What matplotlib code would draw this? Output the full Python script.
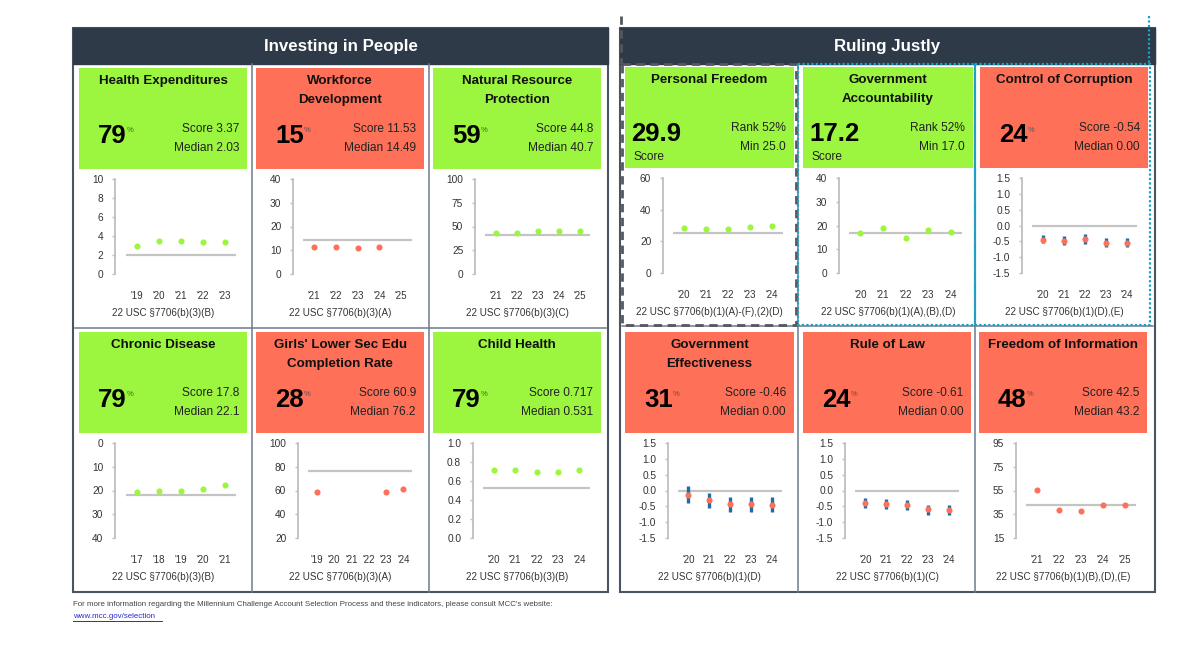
import matplotlib
matplotlib.use("Agg")
import matplotlib.pyplot as plt
from matplotlib.patches import Rectangle

plt.rcParams['font.family'] = ['Liberation Sans', 'DejaVu Sans']

nan = float('nan')
GREEN = "#9CF53E"
RED = "#FF7058"

# data, one entry per panel
titles = ["Health Expenditures", "Workforce\nDevelopment", "Natural Resource\nProtection",
          "Chronic Disease", "Girls' Lower Sec Edu\nCompletion Rate", "Child Health",
          "Personal Freedom", "Government\nAccountability", "Control of Corruption",
          "Government\nEffectiveness", "Rule of Law", "Freedom of Information"]
big_numbers = ["79", "15", "59", "79", "28", "79", "29.9", "17.2", "24", "31", "24", "48"]
score_labels = ["Score 3.37", "Score 11.53", "Score 44.8", "Score 17.8", "Score 60.9", "Score 0.717",
                "Rank 52%", "Rank 52%", "Score -0.54", "Score -0.46", "Score -0.61", "Score 42.5"]
median_labels = ["Median 2.03", "Median 14.49", "Median 40.7", "Median 22.1", "Median 76.2", "Median 0.531",
                 "Min 25.0", "Min 17.0", "Median 0.00", "Median 0.00", "Median 0.00", "Median 43.2"]
passed = [True, False, True, True, False, True, True, True, False, False, False, False]
statutes = ["22 USC §7706(b)(3)(B)", "22 USC §7706(b)(3)(A)", "22 USC §7706(b)(3)(C)",
            "22 USC §7706(b)(3)(B)", "22 USC §7706(b)(3)(A)", "22 USC §7706(b)(3)(B)",
            "22 USC §7706(b)(1)(A)-(F),(2)(D)", "22 USC §7706(b)(1)(A),(B),(D)", "22 USC §7706(b)(1)(D),(E)",
            "22 USC §7706(b)(1)(D)", "22 USC §7706(b)(1)(C)", "22 USC §7706(b)(1)(B),(D),(E)"]
years = [["'19", "'20", "'21", "'22", "'23"],
         ["'21", "'22", "'23", "'24", "'25"],
         ["'21", "'22", "'23", "'24", "'25"],
         ["'17", "'18", "'19", "'20", "'21"],
         ["'19", "'20", "'21", "'22", "'23", "'24"],
         ["'20", "'21", "'22", "'23", "'24"],
         ["'20", "'21", "'22", "'23", "'24"],
         ["'20", "'21", "'22", "'23", "'24"],
         ["'20", "'21", "'22", "'23", "'24"],
         ["'20", "'21", "'22", "'23", "'24"],
         ["'20", "'21", "'22", "'23", "'24"],
         ["'21", "'22", "'23", "'24", "'25"]]
values = [[2.9, 3.5, 3.5, 3.4, 3.37],
          [11.3, 11.3, 10.9, 11.53, nan],
          [43.5, 43.5, 45, 45.5, 44.8],
          [20.5, 20.2, 20, 19.5, 17.8],
          [58.5, nan, nan, nan, 59, 60.9],
          [0.72, 0.72, 0.70, 0.70, 0.717],
          [28.2, 27.5, 28, 29.3, 29.9],
          [16.7, 18.8, 14.7, 18, 17.2],
          [-0.45, -0.48, -0.42, -0.54, -0.54],
          [-0.14, -0.29, -0.43, -0.44, -0.46],
          [-0.38, -0.42, -0.45, -0.59, -0.61],
          [55.5, 39, 37.5, 42.5, 42.5]]
medians = [2.03, 14.49, 40.7, 22.1, 76.2, 0.531, 25.0, 17.0, 0.0, 0.0, 0.0, 43.2]
y_ticks = [[0, 2, 4, 6, 8, 10],
           [0, 10, 20, 30, 40],
           [0, 25, 50, 75, 100],
           [0, 10, 20, 30, 40],
           [20, 40, 60, 80, 100],
           [0.0, 0.2, 0.4, 0.6, 0.8, 1.0],
           [0, 20, 40, 60],
           [0, 10, 20, 30, 40],
           [-1.5, -1.0, -0.5, 0.0, 0.5, 1.0, 1.5],
           [-1.5, -1.0, -0.5, 0.0, 0.5, 1.0, 1.5],
           [-1.5, -1.0, -0.5, 0.0, 0.5, 1.0, 1.5],
           [15, 35, 55, 75, 95]]
y_labels = [["0", "2", "4", "6", "8", "10"],
            ["0", "10", "20", "30", "40"],
            ["0", "25", "50", "75", "100"],
            ["0", "10", "20", "30", "40"],
            ["20", "40", "60", "80", "100"],
            ["0.0", "0.2", "0.4", "0.6", "0.8", "1.0"],
            ["0", "20", "40", "60"],
            ["0", "10", "20", "30", "40"],
            ["-1.5", "-1.0", "-0.5", "0.0", "0.5", "1.0", "1.5"],
            ["-1.5", "-1.0", "-0.5", "0.0", "0.5", "1.0", "1.5"],
            ["-1.5", "-1.0", "-0.5", "0.0", "0.5", "1.0", "1.5"],
            ["15", "35", "55", "75", "95"]]
err_low = {8: [-0.55, -0.63, -0.57, -0.68, -0.68],
           9: [-0.39, -0.55, -0.67, -0.67, -0.67],
           10: [-0.55, -0.58, -0.62, -0.77, -0.77]}
err_high = {8: [-0.30, -0.33, -0.28, -0.38, -0.38],
            9: [0.14, -0.07, -0.20, -0.20, -0.20],
            10: [-0.23, -0.26, -0.30, -0.45, -0.45]}

# layout in pixels: colored box (x0, x1), then plot (left, right, spine x)
boxes = [(79, 247), (256, 424), (433, 601), (79, 247), (256, 424), (433, 601),
         (625, 794), (803, 973), (980, 1148), (625, 794), (803, 971), (979, 1147)]
plots = [(126, 236, 115), (303, 412, 293), (485, 590, 475),
         (126, 236, 115), (308, 412, 298), (483, 590, 473),
         (673, 783, 663), (849, 962, 839), (1032, 1137, 1022),
         (678, 782, 668), (855, 959, 845), (1026, 1136, 1016)]
row_tops = [68, 68, 68, 332, 332, 332, 67, 67, 67, 332, 332, 332]
axis_tops = [179, 179, 179, 443, 443, 443, 178, 178, 178, 443, 443, 443]

fig = plt.figure(figsize=(12, 6.48), dpi=100)
bg = fig.add_axes([0, 0, 1, 1])
bg.set_xlim(0, 1200)
bg.set_ylim(648, 0)
bg.axis("off")

# block frames and headers
frame = "#6C7A8E"
for x0, x1, name in [(73, 608, "Investing in People"), (620, 1155, "Ruling Justly")]:
    bg.add_patch(Rectangle((x0, 28), x1 - x0, 564, fc="white", ec="#4A5563", lw=1.5))
    bg.add_patch(Rectangle((x0, 28), x1 - x0, 36, fc="#2E3A48", ec="#2E3A48", lw=1))
    bg.text((x0 + x1) / 2, 46, name, color="white", fontsize=12.2, fontweight="bold",
            ha="center", va="center")
for x in [252, 429, 798, 975]:
    bg.plot([x, x], [64, 592], color=frame, lw=1.1)
bg.plot([75, 606], [328, 328], color=frame, lw=1.1)
bg.plot([622, 1153], [326, 326], color=frame, lw=1.1)

for i in range(12):
    x0, x1 = boxes[i]
    top = row_tops[i]
    mid = (x0 + x1) / 2
    color = GREEN if passed[i] else RED
    bg.add_patch(Rectangle((x0, top), x1 - x0, 101, fc=color, ec="none"))

    # title, one or two lines
    for j, line in enumerate(titles[i].split("\n")):
        bg.text(mid, top + 13 + j * 19, line, fontsize=9.6, fontweight="bold", color="#111111",
                ha="center", va="center")

    # big number
    if "." in big_numbers[i]:
        bg.text(x0 + 6, top + 67, big_numbers[i], fontsize=18.5, fontweight="bold", color="black",
                ha="left", va="center")
        bg.text(x0 + 24, top + 90, "Score", fontsize=8.6, color="#222222", ha="center", va="center")
    else:
        bg.text(x0 + 19, top + 68, big_numbers[i], fontsize=18.5, fontweight="bold", color="black",
                ha="left", va="center")
        bg.text(x0 + 48, top + 63, "%", fontsize=5.5, color="#555555", ha="left", va="center")

    bg.text(x1 - 8, top + 61, score_labels[i], fontsize=8.6, color="#222222", ha="right", va="center")
    bg.text(x1 - 8, top + 80, median_labels[i], fontsize=8.6, color="#222222", ha="right", va="center")
    bg.text(mid, top + 245, statutes[i], fontsize=7.1, color="#333333", ha="center", va="center")

    # the small chart
    left, right, spine_x = plots[i]
    ax_top = axis_tops[i]
    ax = fig.add_axes([left / 1200, 1 - (ax_top + 95) / 648, (right - left) / 1200, 95 / 648])
    ax.patch.set_alpha(0)
    n = len(years[i])
    xs = list(range(n))
    ax.plot([-0.5, n - 0.5], [medians[i], medians[i]], color="#C4C4C4", lw=1.6, zorder=1)
    if i in err_low:
        ax.vlines(xs, err_low[i], err_high[i], color="#1F6DA6", lw=2.4, zorder=2)
    ax.plot(xs, values[i], "o", color=color, ms=4.4, mew=0, zorder=3, clip_on=False)
    ax.set_xlim(-0.5, n - 0.5)
    lo, hi = y_ticks[i][0], y_ticks[i][-1]
    if titles[i] == "Chronic Disease":
        ax.set_ylim(hi, lo)
    else:
        ax.set_ylim(lo, hi)
    ax.set_xticks(xs)
    ax.set_xticklabels(years[i])
    ax.set_yticks(y_ticks[i])
    ax.set_yticklabels(y_labels[i])
    ax.tick_params(axis="x", length=0, pad=12, labelsize=7, labelcolor="#333333")
    ax.tick_params(axis="y", length=2.5, width=1, color="#BFBFBF", pad=6, labelsize=7.3, labelcolor="#333333")
    for side in ["top", "right", "bottom"]:
        ax.spines[side].set_visible(False)
    ax.spines["left"].set_position(("outward", (left - spine_x) * 0.72))
    ax.spines["left"].set_color("#BFBFBF")
    ax.spines["left"].set_linewidth(1.3)

# highlight borders around the top row of Ruling Justly
bg.add_patch(Rectangle((622, 64), 174, 261, fc="none", ec="#55585C", lw=2, ls=(0, (3, 2)), zorder=5))
bg.plot([620.5, 620.5], [16, 64], color="#55585C", lw=2, ls=(0, (3, 2)), zorder=5)
bg.add_patch(Rectangle((798, 64), 177, 261, fc="none", ec="#1BA0C4", lw=1.6, ls=(0, (1, 1)), zorder=6))
bg.add_patch(Rectangle((975, 64), 175, 261, fc="none", ec="#1BA0C4", lw=1.6, ls=(0, (1, 1)), zorder=6))
bg.plot([1149, 1149], [16, 64], color="#1BA0C4", lw=1.6, ls=(0, (1, 1)), zorder=6)

# footnote
bg.text(73, 604, "For more information regarding the Millennium Challenge Account Selection Process and these indicators, please consult MCC's website:",
        fontsize=5.65, color="#444444", ha="left", va="center")
bg.text(73, 617, "www.mcc.gov/selection", fontsize=5.65, color="#2A2AD0", ha="left", va="center")
bg.plot([73, 162], [621, 621], color="#2A2AD0", lw=0.7)

fig.savefig("out.png", dpi=100)
